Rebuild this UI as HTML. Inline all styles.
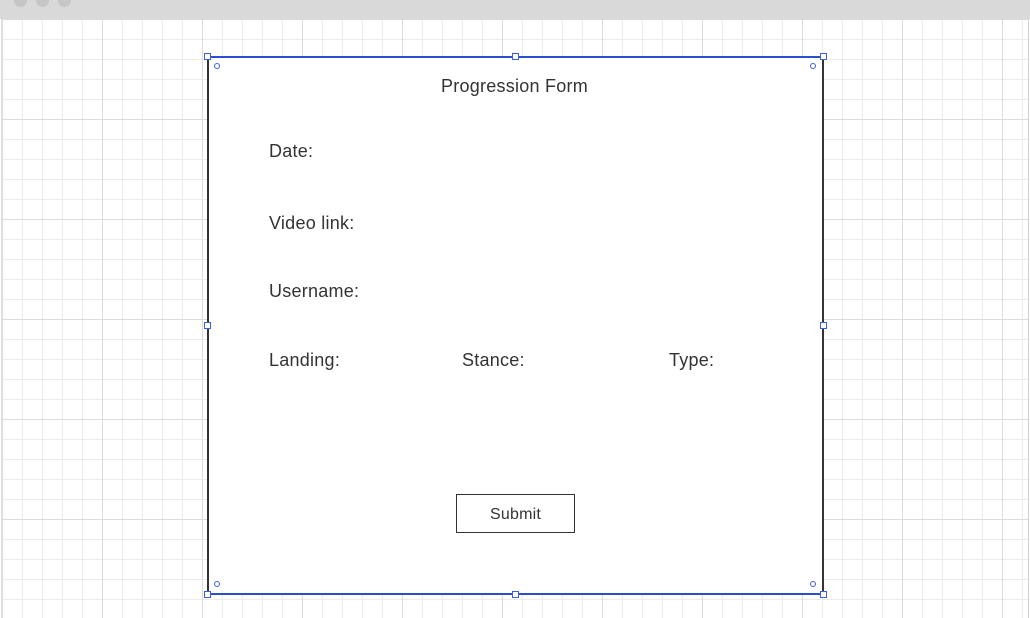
<!DOCTYPE html>
<html><head><style>
body{margin:0;width:1030px;height:618px;overflow:hidden;background:#fff;font-family:"Liberation Sans",sans-serif;position:relative}
.top{position:absolute;left:0;top:0;width:1030px;height:19px;background:#d9d9d9}
.dot{position:absolute;top:-6px;width:13px;height:13px;border-radius:50%;background:#c6c6c6}
.grid{position:absolute;left:2px;top:19px;width:1026px;height:599px;
background-image:
linear-gradient(#dcdcdc 1px,transparent 1px),linear-gradient(90deg,#dcdcdc 1px,transparent 1px),
linear-gradient(#ececec 1px,transparent 1px),linear-gradient(90deg,#ececec 1px,transparent 1px);
background-size:100px 100px,100px 100px,20px 20px,20px 20px;background-position:0 0}
.rb{position:absolute;left:1028px;top:19px;width:1px;height:599px;background:#d0d0d0}
.lb{position:absolute;left:1px;top:19px;width:1px;height:599px;background:#e0e0e0}
.box{position:absolute;left:207px;top:56px;width:613px;height:535px;background:#fff;border:2px solid #333;border-top-color:#2a4fd0;border-bottom-color:#2a4fd0}
.h{position:absolute;width:5px;height:5px;border:1px solid #3b5fe0;background:#fff}
.c{position:absolute;width:4px;height:4px;border:1px solid #3b5fe0;border-radius:50%;background:#fff}
.t{position:absolute;color:#333;font-size:18px;line-height:20px;letter-spacing:0.25px}
.btn{position:absolute;left:456px;top:494px;width:117px;height:37px;border:1px solid #333;background:#fff;font-size:16px;color:#333;text-align:center;line-height:39px;letter-spacing:0.2px}
</style></head><body>
<div class="top"><div class="dot" style="left:14px"></div><div class="dot" style="left:36px"></div><div class="dot" style="left:58px"></div></div>
<div class="grid"></div><div class="lb"></div><div class="rb"></div>
<div class="box"></div>
<div class="h" style="left:204px;top:53px"></div><div class="h" style="left:512px;top:53px"></div><div class="h" style="left:820px;top:53px"></div>
<div class="h" style="left:204px;top:322px"></div><div class="h" style="left:820px;top:322px"></div>
<div class="h" style="left:204px;top:591px"></div><div class="h" style="left:512px;top:591px"></div><div class="h" style="left:820px;top:591px"></div>
<div class="c" style="left:214px;top:63px"></div><div class="c" style="left:810px;top:63px"></div>
<div class="c" style="left:214px;top:581px"></div><div class="c" style="left:810px;top:581px"></div>
<div class="t" style="left:441px;top:76px">Progression Form</div>
<div class="t" style="left:269px;top:141px">Date:</div>
<div class="t" style="left:269px;top:213px">Video link:</div>
<div class="t" style="left:269px;top:281px">Username:</div>
<div class="t" style="left:269px;top:350px">Landing:</div>
<div class="t" style="left:462px;top:350px">Stance:</div>
<div class="t" style="left:669px;top:350px">Type:</div>
<div class="btn">Submit</div>
</body></html>
